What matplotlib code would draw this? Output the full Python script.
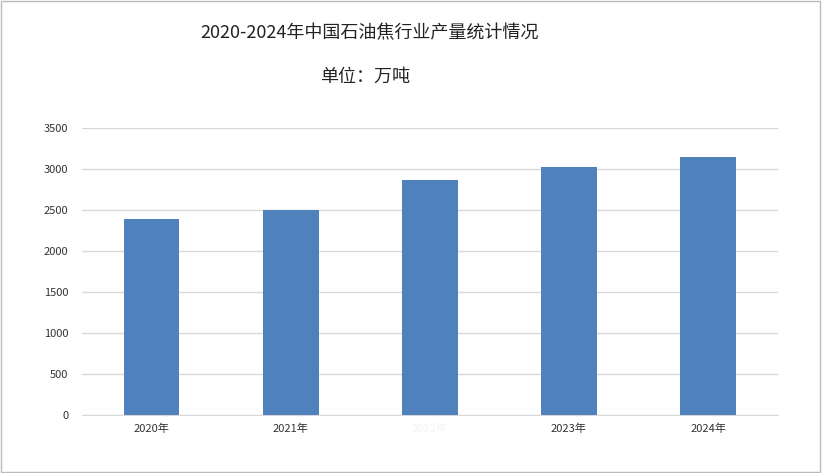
import matplotlib
matplotlib.use('Agg')
import matplotlib.pyplot as plt

plt.rcParams['font.family'] = ['Noto Sans CJK SC', 'DejaVu Sans']

years = ['2020年', '2021年', '2022年', '2023年', '2024年']
output = [2390, 2500, 2866, 3024, 3146]
yticks = [0, 500, 1000, 1500, 2000, 2500, 3000, 3500]

fig = plt.figure(figsize=(8.22, 4.73), dpi=100)
ax = fig.add_axes([0.0998, 0.1226, 0.8462, 0.6068])

x = range(len(years))
ax.bar(x, output, width=0.4, color='#4f81bd', zorder=3)
ax.set_xlim(-0.5, len(years) - 0.5)
ax.set_ylim(0, 3500)
ax.set_yticks(yticks)
ax.set_xticks(list(x))
ax.set_xticklabels(years, fontsize=8, color='#333333')
# 2022 label is almost invisible in the reference
ax.get_xticklabels()[2].set_color('#f4f4f4')
ax.tick_params(axis='y', labelsize=8, colors='#333333', length=0, pad=10)
ax.tick_params(axis='x', length=0, pad=6)
ax.grid(axis='y', color='#d9d9d9', linewidth=1, zorder=0)
for s in ['top', 'right', 'left']:
    ax.spines[s].set_visible(False)
ax.spines['bottom'].set_color('#d9d9d9')

fig.text(0.45, 0.93, '2020-2024年中国石油焦行业产量统计情况', ha='center', va='center',
         fontsize=13, color='#222222')
fig.text(0.444, 0.837, '单位：万吨', ha='center', va='center', fontsize=13, color='#222222')

fig.patches.append(plt.Rectangle((0.001, 0.002), 0.997, 0.996, transform=fig.transFigure,
                                 fill=False, edgecolor='#bbbbbb', linewidth=1))

fig.savefig('out.png', dpi=100)
